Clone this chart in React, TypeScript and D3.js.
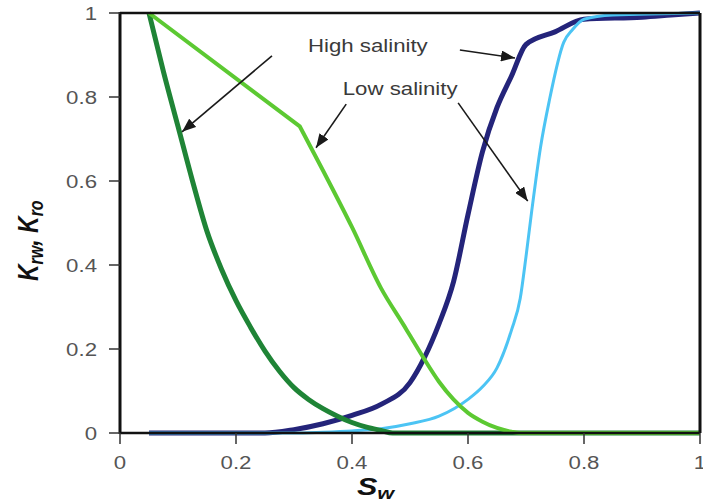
import React from "react";
import * as d3 from "d3";

// ---- Data ----
// High salinity, oil relative permeability (dark green)
const swHighKro = [0.05, 0.075, 0.1, 0.125, 0.15, 0.175, 0.2, 0.225, 0.25, 0.275, 0.3, 0.325, 0.35, 0.375, 0.4, 0.425, 0.45, 0.47, 1.0];
const krHighKro = [1.0, 0.86, 0.73, 0.6, 0.48, 0.39, 0.315, 0.252, 0.195, 0.147, 0.108, 0.08, 0.058, 0.04, 0.025, 0.014, 0.006, 0, 0];

// Low salinity, oil relative permeability (light green)
const swLowKro = [0.05, 0.31, 0.35, 0.4, 0.45, 0.49, 0.5, 0.525, 0.55, 0.575, 0.6, 0.625, 0.65, 0.675, 0.69, 1.0];
const krLowKro = [1.0, 0.73, 0.625, 0.49, 0.345, 0.255, 0.232, 0.175, 0.122, 0.08, 0.048, 0.027, 0.012, 0.003, 0, 0];

// High salinity, water relative permeability (navy)
const swHighKrw = [0.05, 0.25, 0.3, 0.35, 0.4, 0.45, 0.5, 0.525, 0.55, 0.575, 0.6, 0.625, 0.65, 0.675, 0.7, 0.75, 0.8, 0.9, 0.95, 1.0];
const krHighKrw = [0, 0, 0.008, 0.022, 0.042, 0.068, 0.12, 0.18, 0.26, 0.36, 0.52, 0.67, 0.775, 0.85, 0.925, 0.955, 0.985, 0.99, 0.995, 1.0];

// Low salinity, water relative permeability (light blue)
const swLowKrw = [0.05, 0.3, 0.35, 0.4, 0.45, 0.5, 0.55, 0.6, 0.625, 0.65, 0.675, 0.69, 0.7, 0.71, 0.725, 0.74, 0.765, 0.78, 0.8, 0.85, 1.0];
const krLowKrw = [0, 0, 0.002, 0.005, 0.01, 0.022, 0.04, 0.08, 0.11, 0.155, 0.245, 0.32, 0.42, 0.53, 0.68, 0.79, 0.93, 0.96, 0.985, 0.995, 1.0];

const xTicks = [0, 0.2, 0.4, 0.6, 0.8, 1];
const yTicks = [0, 0.2, 0.4, 0.6, 0.8, 1];
const tickLabels = ["0", "0.2", "0.4", "0.6", "0.8", "1"];

// Annotations in data units: [fromSw, fromKr, toSw, toKr]
const annotationTexts = ["High salinity", "Low salinity"];
const annotationTextPos = [[0.324, 0.907], [0.384, 0.805]];
const arrows = [
  [0.262, 0.898, 0.107, 0.717],
  [0.586, 0.912, 0.681, 0.893],
  [0.39, 0.783, 0.338, 0.679],
  [0.583, 0.786, 0.703, 0.552],
];

const FONT = "'Liberation Sans', Arial, Helvetica, sans-serif";
const SX = 1.27; // horizontal text stretch seen in the reference

export default function App() {
  const W = 703, H = 504;
  const left = 120, right = 700, top = 13, bottom = 433;
  const x = d3.scaleLinear().domain([0, 1]).range([left, right]);
  const y = d3.scaleLinear().domain([0, 1]).range([bottom, top]);
  const line = (xs: number[], ys: number[], curve: d3.CurveFactory) =>
    d3.line<number>().curve(curve).x((d, i) => x(xs[i])).y((d) => y(d))(ys) || "";

  // light green: straight first leg, smooth after the knee
  const lowKroStraight = line(swLowKro.slice(0, 2), krLowKro.slice(0, 2), d3.curveLinear);
  const lowKroCurve = line(swLowKro.slice(1), krLowKro.slice(1), d3.curveMonotoneX);

  const series = [
    { d: line(swHighKrw, krHighKrw, d3.curveMonotoneX), color: "#24247a", w: 5 },
    { d: line(swLowKrw, krLowKrw, d3.curveMonotoneX), color: "#4cc4f4", w: 3 },
    { d: line(swHighKro, krHighKro, d3.curveMonotoneX), color: "#1f8436", w: 5 },
    { d: lowKroStraight + lowKroCurve.replace(/^M/, "L"), color: "#5cc932", w: 4 },
  ];

  return (
    <svg width={W} height={H} style={{ position: "absolute", left: 0, top: 0, background: "#fff" }}>
      <defs>
        <marker id="ah" markerUnits="userSpaceOnUse" markerWidth={14} markerHeight={11} viewBox="0 0 14 11" refX={14} refY={5.5} orient="auto">
          <path d="M0,0 L14,5.5 L0,11 Z" fill="#1a1a1a" />
        </marker>
      </defs>
      <rect x={0} y={0} width={W} height={H} fill="#fff" />
      {series.map((s, i) => (
        <path key={i} d={s.d} fill="none" stroke={s.color} strokeWidth={s.w} strokeLinejoin="round" strokeLinecap="butt" />
      ))}
      {/* frame */}
      <line x1={left} y1={top} x2={right} y2={top} stroke="#111" strokeWidth={2.5} />
      <line x1={right} y1={top} x2={right} y2={bottom} stroke="#111" strokeWidth={3} />
      <line x1={left} y1={bottom} x2={right} y2={bottom} stroke="#111" strokeWidth={2.5} />
      <line x1={left} y1={top - 1} x2={left} y2={bottom + 1} stroke="#111" strokeWidth={3} />
      {/* y ticks */}
      {yTicks.map((t, i) => (
        <g key={"y" + i}>
          <line x1={left - 11} x2={left} y1={y(t)} y2={y(t)} stroke="#333" strokeWidth={1.5} />
          <text transform={`translate(${97},${y(t) + 6.5}) scale(${SX},1)`} textAnchor="end" fontFamily={FONT} fontSize={17.5} fill="#555">
            {tickLabels[i]}
          </text>
        </g>
      ))}
      {/* x ticks */}
      {xTicks.map((t, i) => (
        <g key={"x" + i}>
          <line x1={x(t)} x2={x(t)} y1={bottom} y2={bottom + 11} stroke="#333" strokeWidth={1.5} />
          <text transform={`translate(${x(t)},${469}) scale(${SX},1)`} textAnchor="middle" fontFamily={FONT} fontSize={17.5} fill="#555">
            {tickLabels[i]}
          </text>
        </g>
      ))}
      {/* axis titles */}
      <text transform={`translate(357,495) scale(${SX},1)`} fontFamily={FONT} fontSize={24} fontWeight="bold" fontStyle="italic" fill="#111">
        S<tspan fontSize={17} dy={4}>w</tspan>
      </text>
      <text transform={`translate(38,281) scale(${SX},1) rotate(-90)`} fontFamily={FONT} fontSize={23} fontWeight="bold" fontStyle="italic" fill="#111">
        K<tspan fontSize={16} dy={4}>rw</tspan><tspan dy={-4}>, K</tspan><tspan fontSize={16} dy={4}>ro</tspan>
      </text>
      {/* annotations */}
      {arrows.map((a, i) => (
        <line key={"a" + i} x1={x(a[0])} y1={y(a[1])} x2={x(a[2])} y2={y(a[3])} stroke="#1a1a1a" strokeWidth={1.6} markerEnd="url(#ah)" />
      ))}
      {annotationTexts.map((t, i) => (
        <text key={"t" + i} transform={`translate(${x(annotationTextPos[i][0])},${y(annotationTextPos[i][1])}) scale(${SX},1)`} fontFamily={FONT} fontSize={17.5} fill="#3a3a3a">
          {t}
        </text>
      ))}
    </svg>
  );
}
